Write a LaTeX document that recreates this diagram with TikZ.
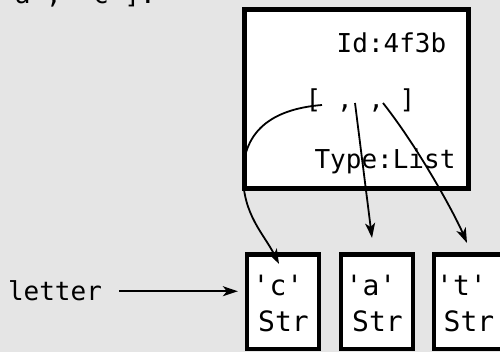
\documentclass[tikz,border=0pt]{standalone}
\usepackage{fontspec}
\setmonofont{DejaVu Sans Mono}
\usetikzlibrary{arrows.meta,calc}
\definecolor{bg}{RGB}{229,229,229}
\begin{document}
\begin{tikzpicture}[x=1pt,y=-1pt,
  txt/.style={font=\ttfamily\fontsize{26}{31}\selectfont, inner sep=0pt, anchor=base},
  stxt/.style={font=\ttfamily\fontsize{28}{33}\selectfont, inner sep=0pt, anchor=base},
  objbox/.style={draw=black, fill=white, line width=4.4pt, inner sep=0pt},
  strbox/.style={objbox, line width=4.3pt, minimum width=72pt, minimum height=94.5pt},
  arr/.style={line width=1.8pt, -{Stealth[length=15pt,width=10pt,inset=4pt]}}]
\fill[bg] (0,0) rectangle (500,352);
\useasboundingbox (0,0) rectangle (500,352);
% cut-off code line at the top
\node[txt, anchor=base west] (code) at (-1,4) {'a', 'c'].};
% list object
\node[objbox, minimum width=223.8pt, minimum height=179.2pt] (obj) at (356.4,99.1) {};
\node[txt] (oid) at (391.5,53) {Id:4f3b};
\node[txt] (items) at (360.5,109) {[ , , ]};
\node[txt] (otype) at (385,169) {Type:List};
% string objects
\node[strbox] (sc) at (283,301.75) {};
\node[strbox] (sa) at (377,301.75) {};
\node[strbox] (st) at (470,301.75) {};
\node[stxt] (scv) at (278,295) {'c'};
\node[stxt] (sct) at (283.5,331.7) {Str};
\node[stxt] (sav) at (371,295) {'a'};
\node[stxt] (sat) at (377.5,331.7) {Str};
\node[stxt] (stv) at (461.5,295) {'t'};
\node[stxt] (stt) at (469,331.7) {Str};
% variable
\node[txt] (letter) at (55,301) {letter};
\draw[arr, shorten <=17pt, shorten >=7pt] (letter.east) -- (letter.east -| sc.west);
% references
\coordinate (p1) at (322,105);
\coordinate (p2) at (355,103);
\coordinate (p3) at (383,103);
\coordinate (q1) at (279,264);
\coordinate (q2) at (372,238);
\coordinate (q3) at (467,243);
\draw[arr] (p1) .. controls (285,108) and (243,122) .. (243,175) .. controls (243,215) and (264,234) .. (q1);
\draw[arr] (p2) -- (q2);
\draw[arr] (p3) .. controls (420,150) and (455,215) .. (q3);
\end{tikzpicture}
\end{document}
